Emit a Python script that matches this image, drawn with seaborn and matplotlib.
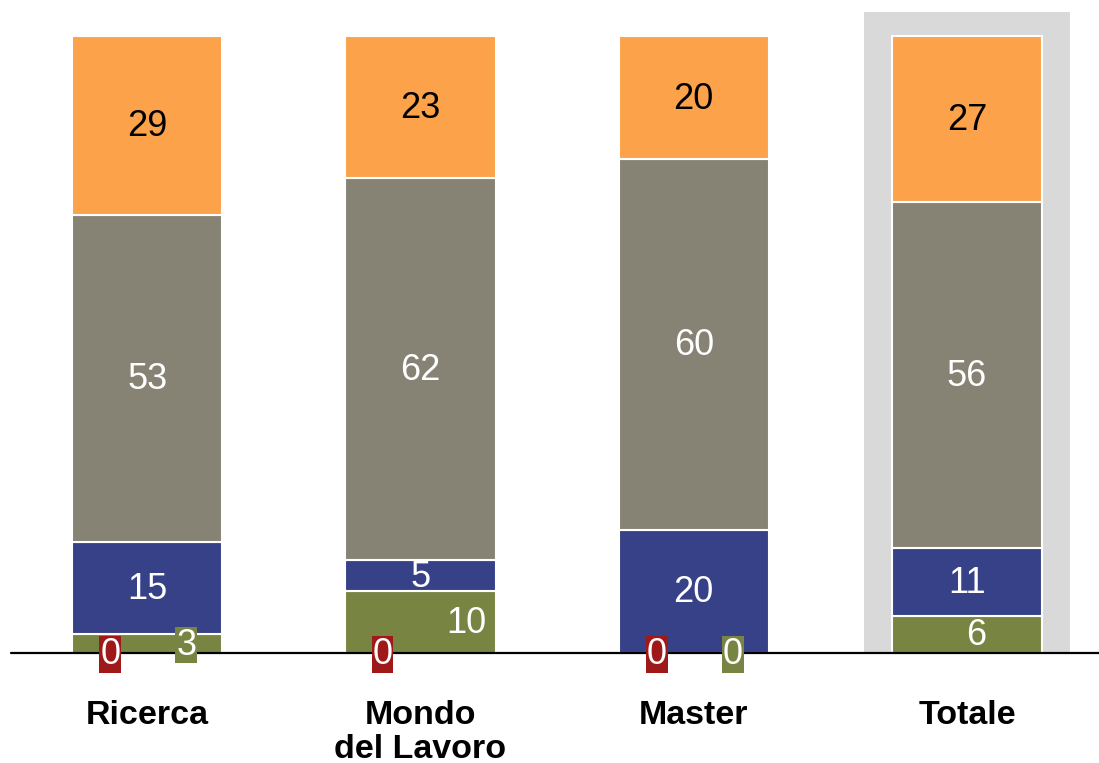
import matplotlib
matplotlib.use("Agg")
import matplotlib.pyplot as plt
import matplotlib.transforms as mtransforms
import seaborn as sns
import numpy as np
import pandas as pd

# ---- data ----
categories = ["Ricerca", "Mondo\ndel Lavoro", "Master", "Totale"]
red_vals = [0, 0, 0, np.nan]
green_vals = [3, 10, 0, 6]
blue_vals = [15, 5, 20, 11]
gray_vals = [53, 62, 60, 56]
orange_vals = [29, 23, 20, 27]
highlight = "Totale"

# ---- style ----
sns.set_theme(style="white")
plt.rcParams["font.family"] = ["Liberation Sans", "DejaVu Sans"]

c_red = "#A01919"
c_green = "#788442"
c_blue = "#374187"
c_gray = "#868374"
c_orange = "#FBA24A"
c_hl = "#D9D9D9"

# label x-offsets (in category units) for small-value labels
red_off = [-0.135, -0.139, -0.135, 0.0]
green_off = [0.143, 0.168, 0.143, 0.033]

fig = plt.figure(figsize=(10.99, 7.63), dpi=100)
ax = fig.add_axes([11 / 1099, 110 / 763, 1088 / 1099, 648 / 763])
tr = mtransforms.offset_copy(ax.transData, fig=fig, x=0, y=-1.5, units="dots")

hi = categories.index(highlight)
ax.axvspan(hi - 0.377, hi + 0.377, ymin=0, ymax=103.9 / 105, color=c_hl, zorder=0, lw=0)

layers = [
    ("green", green_vals, c_green, "white"),
    ("blue", blue_vals, c_blue, "white"),
    ("gray", gray_vals, c_gray, "white"),
    ("orange", orange_vals, c_orange, "black"),
]

bottom = np.zeros(len(categories))
bar_w = 0.55
fs = 26
for name, vals, col, tcol in layers:
    v = np.array(vals, dtype=float)
    df = pd.DataFrame({"cat": categories, "val": v})
    sns.barplot(data=df, x="cat", y="val", order=categories, color=col,
                saturation=1, width=bar_w, bottom=bottom.copy(),
                edgecolor="white", linewidth=1.5, errorbar=None, ax=ax, zorder=2)
    for i, val in enumerate(v):
        if np.isnan(val):
            continue
        ymid = bottom[i] + val / 2
        if name == "green":
            box = dict(boxstyle="square,pad=0.02", fc=col, ec="none") if val < 5 else None
            ax.text(i + green_off[i], ymid, f"{int(val)}", ha="center", va="center",
                    fontsize=fs, color=tcol, zorder=5, transform=tr, clip_on=False,
                    bbox=box)
        else:
            ax.text(i, ymid, f"{int(val)}", ha="center", va="center",
                    fontsize=fs, color=tcol, zorder=5, transform=tr)
    bottom = bottom + np.nan_to_num(v)

# red (zero) series labels
for i, val in enumerate(red_vals):
    if np.isnan(val):
        continue
    ax.text(i + red_off[i], val / 2, f"{int(val)}", ha="center", va="center",
            fontsize=fs, color="white", zorder=6, clip_on=False, transform=tr,
            bbox=dict(boxstyle="square,pad=0.02", fc=c_red, ec="none"))

ax.axhline(0, color="black", lw=1.6, zorder=4, clip_on=False)

ax.set_xlim(-0.498, 3.483)
ax.set_ylim(0, 105)
ax.set_xticks(range(len(categories)))
ax.set_xticklabels(categories, fontsize=24.5, fontweight="bold", color="black",
                   linespacing=1.1)
ax.tick_params(axis="x", length=0, pad=34)
ax.set_yticks([])
ax.set_xlabel("")
ax.set_ylabel("")
for s in ax.spines.values():
    s.set_visible(False)
ax.set_facecolor("white")
fig.patch.set_facecolor("white")

fig.savefig("out.png", dpi=100)
